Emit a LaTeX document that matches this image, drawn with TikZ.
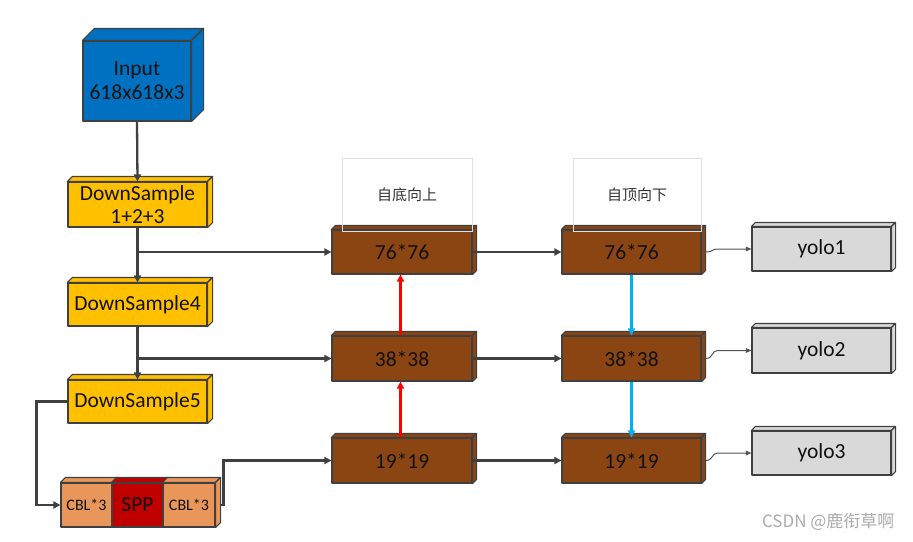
\documentclass[tikz,border=0pt]{standalone}
\usepackage{fontspec}
\setmainfont{Carlito}
\newfontfamily\cjk{Noto Sans CJK SC}
\usetikzlibrary{arrows.meta,calc}
\definecolor{edgec}{HTML}{404040}
\definecolor{inblue}{HTML}{0070C0}
\definecolor{dsyellow}{HTML}{FFC000}
\definecolor{featbrown}{HTML}{8B4513}
\definecolor{cblorange}{HTML}{E9965A}
\definecolor{sppred}{HTML}{C00000}
\definecolor{yologray}{HTML}{D9D9D9}
\definecolor{txt}{HTML}{111111}
\definecolor{upred}{HTML}{FF0000}
\definecolor{downcyan}{HTML}{00B0F0}
\newcommand\topface[3]{\filldraw[edge,fill=#3] (#1.north west) -- ++(#2,#2) -- ([shift={(#2,#2)}]#1.north east) -- (#1.north east) -- cycle;}
\newcommand\sideface[3]{\filldraw[edge,fill=#3] (#1.north east) -- ++(#2,#2) -- ([shift={(#2,#2)}]#1.south east) -- (#1.south east) -- cycle;}
\newcommand\cubeface[3]{\topface{#1}{#2}{#3}\sideface{#1}{#2}{#3}}
\tikzset{
  edge/.style={draw=edgec,line width=1.1pt,line join=round},
  box/.style={edge,rectangle,inner sep=0pt,text=txt,align=center,font=\fontsize{21.5}{24}\selectfont},
  lbl/.style={draw=gray!25,line width=0.9pt,rectangle,inner sep=0pt,minimum width=130pt,minimum height=73pt,text=black!80,font=\cjk\fontsize{15}{18}\selectfont},
  arr/.style={draw=edgec,line width=2.3pt,-{Triangle[length=7pt,width=7pt]}},
  thinarr/.style={draw=edgec!90,line width=1pt,-{Triangle[length=5.5pt,width=4.5pt]}},
  uparr/.style={draw=upred,line width=2.3pt,-{Triangle[length=7pt,width=7pt]}},
  downarr/.style={draw=downcyan,line width=2.3pt,-{Triangle[length=7pt,width=7pt]}},
}
\begin{document}
\begin{tikzpicture}[x=1pt,y=-1pt]
\useasboundingbox[fill=white] (0,0) rectangle (913,541);
% backbone
\node[box,fill=inblue,minimum width=108pt,minimum height=80pt] (inp) at (137,81) {Input\\618x618x3};
\cubeface{inp}{12pt}{inblue}
\node[box,fill=dsyellow,minimum width=139pt,minimum height=45pt,font=\fontsize{21.5}{23}\selectfont] (ds1) at (137.5,204.5) {DownSample\\1+2+3};
\cubeface{ds1}{5pt}{dsyellow}
\node[box,fill=dsyellow,minimum width=139pt,minimum height=43pt] (ds4) at (137.5,304.5) {DownSample4};
\cubeface{ds4}{5pt}{dsyellow}
\node[box,fill=dsyellow,minimum width=139pt,minimum height=43pt] (ds5) at (137.5,401.5) {DownSample5};
\cubeface{ds5}{5pt}{dsyellow}
% CBL SPP CBL
\node[box,fill=cblorange,minimum width=51pt,minimum height=44pt,font=\fontsize{16}{18}\selectfont] (cbla) at (86.5,505) {CBL*3};
\node[box,fill=sppred,minimum width=51pt,minimum height=44pt] (spp) at (137.5,505) {SPP};
\node[box,fill=cblorange,minimum width=52pt,minimum height=44pt,font=\fontsize{16}{18}\selectfont] (cblb) at (189,505) {CBL*3};
\topface{cbla}{5pt}{cblorange}
\topface{spp}{5pt}{sppred}
\topface{cblb}{5pt}{cblorange}
\sideface{cblb}{5pt}{cblorange}
% feature maps
\node[box,fill=featbrown,minimum width=140pt,minimum height=44pt] (L76) at (402,252) {76*76};
\cubeface{L76}{4pt}{featbrown}
\node[box,fill=featbrown,minimum width=140pt,minimum height=45pt] (L38) at (402,358.5) {38*38};
\cubeface{L38}{4pt}{featbrown}
\node[box,fill=featbrown,minimum width=140pt,minimum height=45pt] (L19) at (402,460.5) {19*19};
\cubeface{L19}{4pt}{featbrown}
\node[box,fill=featbrown,minimum width=139pt,minimum height=44pt] (R76) at (631.5,252) {76*76};
\cubeface{R76}{4pt}{featbrown}
\node[box,fill=featbrown,minimum width=139pt,minimum height=45pt] (R38) at (631.5,358.5) {38*38};
\cubeface{R38}{4pt}{featbrown}
\node[box,fill=featbrown,minimum width=139pt,minimum height=45pt] (R19) at (631.5,460.5) {19*19};
\cubeface{R19}{4pt}{featbrown}
% labels
\node[lbl] (up) at (407,194.5) {自底向上};
\node[lbl,minimum width=128pt] (down) at (637,194.5) {自顶向下};
% yolo heads
\node[box,fill=yologray,minimum width=139pt,minimum height=44pt] (y1) at (821.5,249) {yolo1};
\cubeface{y1}{4pt}{yologray}
\node[box,fill=yologray,minimum width=139pt,minimum height=45pt] (y2) at (821.5,350.5) {yolo2};
\cubeface{y2}{4pt}{yologray}
\node[box,fill=yologray,minimum width=139pt,minimum height=44pt] (y3) at (821.5,453) {yolo3};
\cubeface{y3}{4pt}{yologray}
% backbone arrows
\draw[arr] (inp.south) -- (ds1.north);
\draw[arr] (ds1.south) -- (ds4.north);
\draw[arr] (ds4.south) -- (ds5.north);
\coordinate (b1) at (137,252);
\coordinate (b2) at (137,358.5);
\draw[arr] (b1) -- (L76.west);
\draw[arr] (b2) -- (L38.west);
\draw[arr] (ds5.west) -- ++(-31pt,0) |- (cbla.west);
\draw[arr] ([xshift=5pt]cblb.east) -- ++(3pt,0) |- (L19.west);
% horizontal
\draw[arr] (L76.east) -- (R76.west);
\draw[arr] (L38.east) -- (R38.west);
\draw[arr] (L19.east) -- (R19.west);
% vertical
\draw[uparr] ([xshift=-1.5pt]L19.north) -- ([xshift=-1.5pt]L38.south);
\draw[uparr] ([xshift=-1.5pt]L38.north) -- ([xshift=-1.5pt]L76.south);
\draw[downarr] (R76.south) -- (R38.north);
\draw[downarr] (R38.south) -- (R19.north);
% to yolo
\draw[thinarr] ([xshift=4pt]R76.east) .. controls +(8pt,0) and +(-6pt,0) .. ([xshift=-34pt]y1.west) -- (y1.west);
\draw[thinarr] ([xshift=4pt]R38.east) .. controls +(8pt,0) and +(-6pt,0) .. ([xshift=-34pt]y2.west) -- (y2.west);
\draw[thinarr] ([xshift=4pt]R19.east) .. controls +(8pt,0) and +(-6pt,0) .. ([xshift=-34pt]y3.west) -- (y3.west);
% watermark
\node[text=gray!65,font=\cjk\fontsize{17}{19}\selectfont,anchor=east] (wm) at (898,522) {CSDN @鹿衔草啊};
\end{tikzpicture}
\end{document}
